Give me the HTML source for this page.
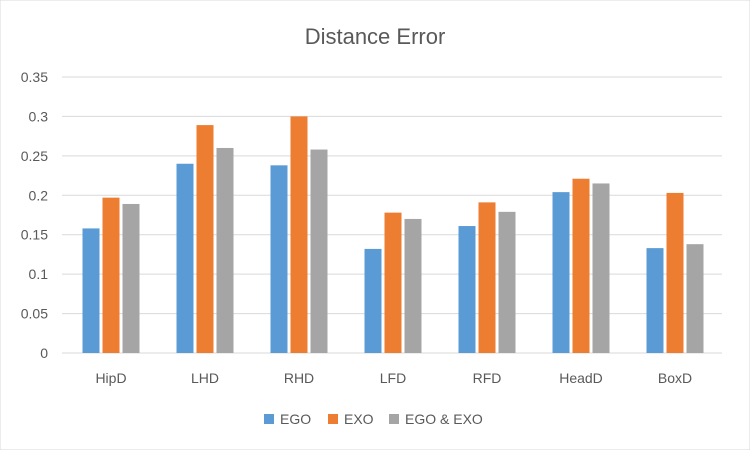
<!DOCTYPE html>
<html><head><meta charset="utf-8"><style>
body{margin:0;background:#fff;font-family:"Liberation Sans",sans-serif;}
svg text{font-family:"Liberation Sans",sans-serif;fill:#595959;}
</style></head><body>
<svg id="chart" width="750" height="450">
<rect width="750" height="450" fill="#fff" stroke="#d9d9d9"/>
<text x="375" y="44" font-size="22" text-anchor="middle">Distance Error</text>
<g id="grid"></g><g id="bars"></g><g id="xl"></g>
<g>
<rect x="264" y="414" width="10" height="10" fill="#5b9bd5"/>
<text x="280" y="424" font-size="14">EGO</text>
<rect x="328" y="414" width="10" height="10" fill="#ed7d31"/>
<text x="344" y="424" font-size="14">EXO</text>
<rect x="389" y="414" width="10" height="10" fill="#a5a5a5"/>
<text x="405" y="424" font-size="14">EGO &amp; EXO</text>
</g>
</svg>
<script>
const categories=["HipD","LHD","RHD","LFD","RFD","HeadD","BoxD"];
const egoValues=[0.158,0.240,0.238,0.132,0.161,0.204,0.133];
const exoValues=[0.197,0.289,0.300,0.178,0.191,0.221,0.203];
const bothValues=[0.189,0.260,0.258,0.170,0.179,0.215,0.138];
const yTicks=[0,0.05,0.1,0.15,0.2,0.25,0.3,0.35];
const yTickLabels=["0","0.05","0.1","0.15","0.2","0.25","0.3","0.35"];
const NS="http://www.w3.org/2000/svg";
const x0=64,x1=722,yb=353,yt=77,ymax=0.35;
const y=v=>yb-(v/ymax)*(yb-yt);
const band=(x1-x0)/categories.length;
const xc=i=>x0+band*(i+0.5);
function mk(tag,attrs,parent){const e=document.createElementNS(NS,tag);for(const k in attrs)e.setAttribute(k,attrs[k]);document.getElementById(parent).appendChild(e);return e;}
yTicks.forEach((t,i)=>{
 const l=mk("line",{x1:62,x2:x1,y1:y(t),y2:y(t),stroke:"#d9d9d9","stroke-width":1},"grid");
 
 
 const tx=mk("text",{x:48,y:y(t)+5,"font-size":14,"text-anchor":"end"},"grid");
 tx.textContent=yTickLabels[i];
 
 
});
const series=[[egoValues,"#5b9bd5","ego"],[exoValues,"#ed7d31","exo"],[bothValues,"#a5a5a5","ego-exo"]];
const bw=17,gap=3;
categories.forEach((c,i)=>{
 series.forEach((s,j)=>{
  const bx=xc(i)-(3*bw+2*gap)/2+j*(bw+gap);
  const r=mk("rect",{x:bx,y:y(s[0][i]),width:bw,height:yb-y(s[0][i]),fill:s[1]},"bars");
  
  
 });
 const t=mk("text",{x:xc(i),y:383,"font-size":14,"text-anchor":"middle"},"xl");
 t.textContent=c;
 
 
});
</script>
</body></html>
